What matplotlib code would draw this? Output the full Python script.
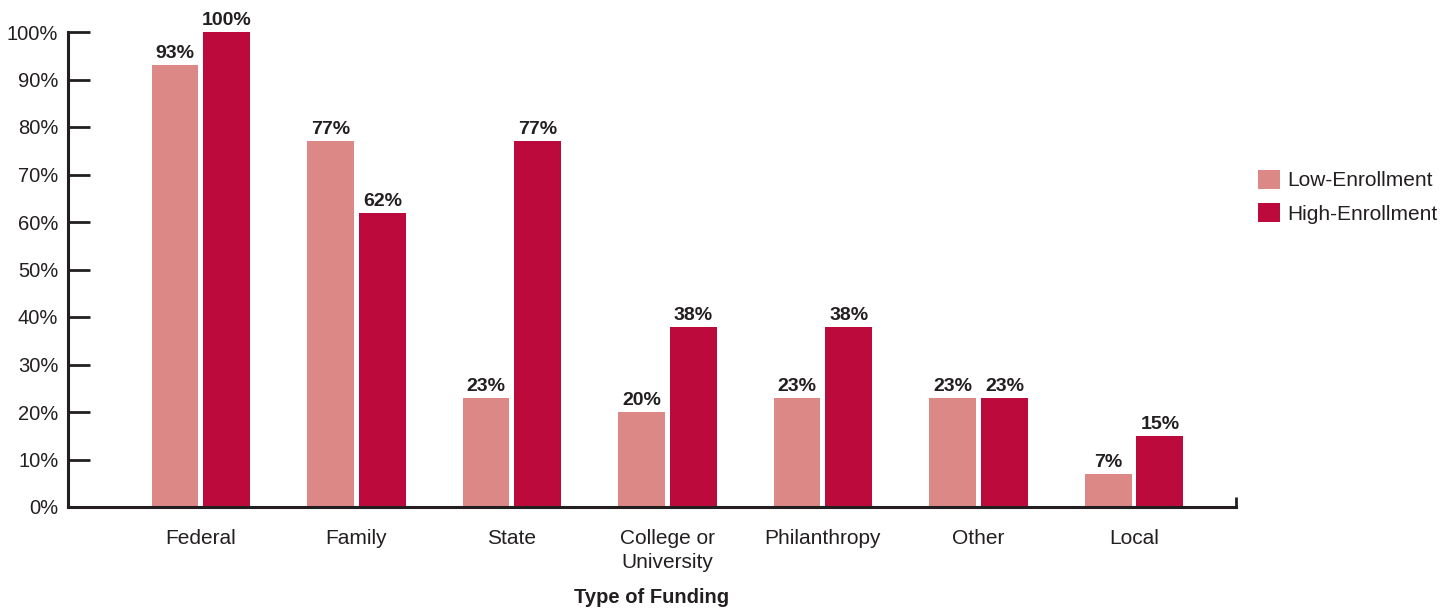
"""Share of programs by type of funding, low vs high enrollment."""

import matplotlib
matplotlib.use("Agg")
import matplotlib.pyplot as plt
import numpy as np

FONT = ["Liberation Sans", "DejaVu Sans"]
INK = "#231F20"
LOW_COLOR = "#DC8886"
HIGH_COLOR = "#BD0A3C"

categories = ["Federal", "Family", "State", "College or\nUniversity",
              "Philanthropy", "Other", "Local"]
low_enrollment = [93, 77, 23, 20, 23, 23, 7]
high_enrollment = [100, 62, 77, 38, 38, 23, 15]
y_ticks = [0, 10, 20, 30, 40, 50, 60, 70, 80, 90, 100]

plt.rcParams["font.family"] = FONT

fig = plt.figure(figsize=(14.53, 6.12), dpi=100)
ax = fig.add_axes([68 / 1453, 105 / 612, (1236 - 68) / 1453, (507 - 32) / 612])

x = np.arange(len(categories))
width = 0.302
offset = 0.167

bars_low = ax.bar(x - offset, low_enrollment, width, color=LOW_COLOR,
                  label="Low-Enrollment")
bars_high = ax.bar(x + offset, high_enrollment, width, color=HIGH_COLOR,
                   label="High-Enrollment")

for bars in (bars_low, bars_high):
    for bar in bars:
        h = bar.get_height()
        ax.annotate(f"{h:.0f}%", (bar.get_x() + bar.get_width() / 2, h),
                    xytext=(0, 2), textcoords="offset points",
                    ha="center", va="bottom", fontsize=14,
                    fontweight="bold", color=INK)

ax.set_xlim(-0.855, 6.656)
ax.set_ylim(0, 100)
ax.set_yticks(y_ticks)
ax.set_yticklabels([f"{t}%" for t in y_ticks])
ax.set_xticks(x)
ax.set_xticklabels(categories, linespacing=1.3)

ax.tick_params(axis="y", direction="in", length=16, width=2, color=INK,
               labelsize=14.5, labelcolor=INK, pad=7)
ax.tick_params(axis="x", length=0, labelsize=15, labelcolor=INK, pad=16)

for side in ("top", "right"):
    ax.spines[side].set_visible(False)
for side in ("left", "bottom"):
    ax.spines[side].set_linewidth(2.2)
    ax.spines[side].set_color(INK)

# small upturned end on the baseline
ax.plot([1, 1], [0, 0.022], transform=ax.transAxes, color=INK,
        linewidth=2, clip_on=False, solid_capstyle="butt")

ax.set_xlabel("Type of Funding", fontsize=14.5, fontweight="bold",
              color=INK, labelpad=12)

ax.legend(loc="upper left", bbox_to_anchor=(1.012, 0.728), frameon=False,
          fontsize=15, handlelength=1.05, handleheight=1.05,
          handletextpad=0.35, labelspacing=0.6, labelcolor=INK,
          borderaxespad=0)

fig.savefig("out.png", dpi=100)
